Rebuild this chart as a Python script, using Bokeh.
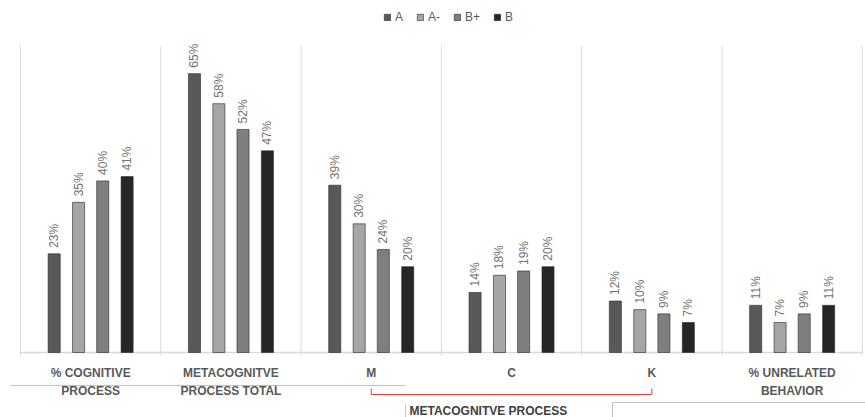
from bokeh.plotting import figure
from bokeh.models import Range1d, Legend, LegendItem, ColumnDataSource
from bokeh.core.properties import value
from bokeh.embed import file_html
from bokeh.resources import INLINE
import math

# ---- data ----
categories = ["% COGNITIVE\nPROCESS", "METACOGNITVE\nPROCESS TOTAL", "M", "C", "K", "% UNRELATED\nBEHAVIOR"]
series_names = ["A", "A-", "B+", "B"]
vals_A = [23, 65, 39, 14, 12, 11]
vals_Am = [35, 58, 30, 18, 10, 7]
vals_Bp = [40, 52, 24, 19, 9, 9]
vals_B = [41, 47, 20, 20, 7, 11]
group_title = "METACOGNITVE  PROCESS"

series_vals = [vals_A, vals_Am, vals_Bp, vals_B]
colors = ["#595959", "#a6a6a6", "#7f7f7f", "#262626"]

W, H = 865, 417
GW = 140.3          # px per category
X0 = 20             # px of first category's left edge
BASE = 352          # px of baseline
PPU = 4.29          # px per percent

x_start = -0.5 - X0 / GW
x_end = x_start + W / GW
y_end = BASE / PPU
y_start = -(H - BASE) / PPU

def px(xp):
    return x_start + xp / GW

def py(yp):
    return (BASE - yp) / PPU

p = figure(width=W, height=H, x_range=Range1d(x_start, x_end), y_range=Range1d(y_start, y_end),
           output_backend="svg", toolbar_location=None, min_border=0)
p.axis.visible = False
p.grid.visible = False
p.outline_line_color = None
p.background_fill_color = "white"
p.border_fill_color = "white"

n = len(categories)
idx = list(range(n))

# separators and baseline
seps = [i - 0.5 for i in range(n + 1)]
p.segment(x0=seps, y0=[py(355)] * len(seps), x1=seps, y1=[py(45)] * len(seps),
          line_color="#d9d9d9", line_width=1)
p.segment(x0=[seps[0]], y0=[0], x1=[seps[-1]], y1=[0], line_color="#d9d9d9", line_width=1.5)

offsets = [-0.26, -0.086, 0.086, 0.26]
bw = 0.086
renderers = []
for name, vals, col, off in zip(series_names, series_vals, colors, offsets):
    xs = [i + off for i in idx]
    src = ColumnDataSource(dict(x=xs, top=vals, lab=[f"{v}%" for v in vals],
                                ly=[v + 6 / PPU for v in vals]))
    r = p.vbar(x="x", top="top", bottom=0, width=bw, source=src, fill_color=col,
               line_color="#262626", line_width=0.6)
    renderers.append((name, r))
    p.text(x="x", y="ly", text="lab", source=src, angle=math.pi / 2,
           text_align="left", text_baseline="middle", text_color="#737373",
           text_font=value("Liberation Sans"), text_font_size="12px")

# category labels
p.text(x=idx, y=[py(365)] * n, text=categories, text_align="center", text_baseline="top",
       text_color="#595959", text_font=value("Liberation Sans"), text_font_size="12px",
       text_font_style="bold", text_line_height=1.35)

# red bracket M..K
p.line(x=[2, 2, 4, 4], y=[py(388), py(394), py(394), py(388)], line_color="#e0403a", line_width=1)

# bottom frame lines
p.segment(x0=[px(10), px(405), px(612), px(612)], y0=[py(385), py(404), py(402), py(402)],
          x1=[px(405), px(405), px(865), px(612)], y1=[py(385), py(417), py(402), py(417)],
          line_color="#bfbfbf", line_width=1)

p.text(x=[px(409)], y=[py(410)], text=[group_title], text_align="left", text_baseline="middle",
       text_color="#404040", text_font=value("Liberation Sans"), text_font_size="12px",
       text_font_style="bold")

legend = Legend(items=[LegendItem(label=nm, renderers=[r]) for nm, r in renderers],
                orientation="horizontal", location=(383, H - 24),
                glyph_width=8, glyph_height=8, label_height=12, label_width=0, label_standoff=4,
                spacing=13, padding=0, margin=0, border_line_color=None,
                background_fill_alpha=0, label_text_font_size="12px",
                label_text_color="#595959", label_text_font="Liberation Sans")
p.add_layout(legend, "center")

open("out.html", "w").write(file_html(p, INLINE))
